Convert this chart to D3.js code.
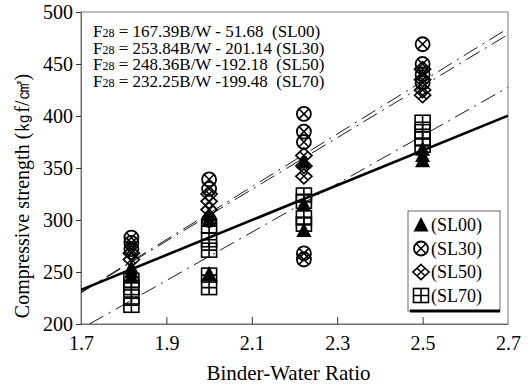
<!DOCTYPE html>
<html>
<head>
<meta charset="utf-8">
<script src="https://cdn.jsdelivr.net/npm/d3@7"></script>
<style>
  body { margin: 0; background: #fff; }
</style>
</head>
<body>
<script>
// binder-water ratio groups
var bwRatio = [1.818, 2.0, 2.222, 2.5];

var seriesNames = ['SL00', 'SL30', 'SL50', 'SL70'];

// strengths, one list per B/W group
var sl00 = [[245, 250, 254], [248, 300, 305], [356, 315, 290], [368, 362, 357]];
var sl30 = [[272, 278, 283], [339, 330, 300], [402, 385, 375, 268, 262], [469, 450, 440, 432]];
var sl50 = [[262, 268], [325, 318, 310], [362, 352, 342], [445, 435, 425, 420]];
var sl70 = [[218, 226, 235, 242], [294, 281, 271, 247, 235], [324, 318, 302, 296], [394, 385, 378, 372]];

// regression F28 = a * B/W + b
var slopes = [167.39, 253.84, 248.36, 232.25];
var intercepts = [-51.68, -201.14, -192.18, -199.48];
var eqnTexts = [' = 167.39B/W - 51.68  (SL00)', ' = 253.84B/W - 201.14 (SL30)', ' = 248.36B/W -192.18  (SL50)', ' = 232.25B/W -199.48  (SL70)'];

var xTicks = [1.7, 1.9, 2.1, 2.3, 2.5, 2.7];
var yTicks = [200, 250, 300, 350, 400, 450, 500];

var SERIF = '"Liberation Serif", "DejaVu Serif", serif';

var W = 528, H = 387;
var plotL = 81, plotR = 508, plotT = 12, plotB = 324;

var svg = d3.select('body').append('svg')
  .attr('width', W)
  .attr('height', H)
  .style('font-family', SERIF);

var x = d3.scaleLinear().domain([1.7, 2.7]).range([plotL, plotR]);
var y = d3.scaleLinear().domain([200, 500]).range([plotB, plotT]);

svg.append('clipPath').attr('id', 'plot')
  .append('rect')
  .attr('x', plotL).attr('y', plotT)
  .attr('width', plotR - plotL).attr('height', plotB - plotT);

// frame
svg.append('rect')
  .attr('x', plotL).attr('y', plotT)
  .attr('width', plotR - plotL).attr('height', plotB - plotT)
  .attr('fill', 'none')
  .attr('stroke', '#555')
  .attr('stroke-width', 0.8);

// axes
var yAxis = svg.append('g')
  .attr('transform', 'translate(' + plotL + ',0)')
  .call(d3.axisLeft(y).tickValues(yTicks).tickSize(5).tickPadding(3).tickFormat(d3.format('d')));

var xAxis = svg.append('g')
  .attr('transform', 'translate(0,' + plotB + ')')
  .call(d3.axisBottom(x).tickValues(xTicks).tickSizeInner(-7).tickSizeOuter(0).tickPadding(12).tickFormat(d3.format('.1f')));

[yAxis, xAxis].forEach(function(g) {
  g.attr('font-family', null).attr('font-size', null);
  g.select('.domain').attr('stroke', '#555').attr('stroke-width', 0.8);
  g.selectAll('.tick line').attr('stroke', '#333');
  g.selectAll('.tick text').style('font-family', SERIF).attr('font-size', 20).attr('fill', '#000');
});
xAxis.selectAll('.tick').filter(function(d) { return d === 1.7 || d === 2.7; }).select('line').remove();

// axis titles
svg.append('text')
  .attr('x', (plotL + plotR) / 2 - 6)
  .attr('y', 380)
  .attr('text-anchor', 'middle')
  .attr('font-size', 21)
  .style('font-family', SERIF)
  .text('Binder-Water Ratio');

svg.append('text')
  .attr('transform', 'translate(29,' + 196 + ') rotate(-90)')
  .attr('text-anchor', 'middle')
  .attr('font-size', 20)
  .style('font-family', SERIF)
  .text('Compressive strength (㎏f/㎠)');

// regression lines
var lineGroup = svg.append('g').attr('clip-path', 'url(#plot)');
slopes.forEach(function(a, i) {
  var b = intercepts[i];
  var x0 = Math.max(1.7, (200 - b) / a);
  lineGroup.append('line')
    .attr('x1', x(x0)).attr('y1', y(a * x0 + b))
    .attr('x2', x(2.7)).attr('y2', y(a * 2.7 + b))
    .attr('stroke', '#000')
    .attr('stroke-width', i === 0 ? 2.6 : 0.9)
    .attr('stroke-dasharray', i === 0 ? null : '16,6,2,6');
});

// marker shapes
var markers = {
  SL00: function(g) {
    g.append('path').attr('d', 'M0,-8L7.5,6.5L-7.5,6.5Z').attr('fill', '#000');
  },
  SL30: function(g) {
    var r = 7, k = r * Math.SQRT1_2;
    g.append('circle').attr('r', r).attr('fill', 'none').attr('stroke', '#000').attr('stroke-width', 1.8);
    g.append('path').attr('d', 'M' + -k + ',' + -k + 'L' + k + ',' + k + 'M' + k + ',' + -k + 'L' + -k + ',' + k)
      .attr('stroke', '#000').attr('stroke-width', 1.6);
  },
  SL50: function(g) {
    var w = 8, h = 7.5;
    g.append('path').attr('d', 'M0,' + -h + 'L' + w + ',0L0,' + h + 'L' + -w + ',0Z')
      .attr('fill', 'none').attr('stroke', '#000').attr('stroke-width', 1.7);
    g.append('path').attr('d', 'M' + w / 2 + ',' + -h / 2 + 'L' + -w / 2 + ',' + h / 2 + 'M' + -w / 2 + ',' + -h / 2 + 'L' + w / 2 + ',' + h / 2)
      .attr('stroke', '#000').attr('stroke-width', 1.5);
  },
  SL70: function(g) {
    g.append('rect').attr('x', -7.5).attr('y', -7).attr('width', 15).attr('height', 14)
      .attr('fill', 'none').attr('stroke', '#000').attr('stroke-width', 1.6);
    g.append('path').attr('d', 'M-7.5,0L7.5,0M0,-7L0,7').attr('stroke', '#000').attr('stroke-width', 1.6);
  }
};

var allSeries = [sl00, sl30, sl50, sl70];
var points = [];
allSeries.forEach(function(groups, si) {
  groups.forEach(function(vals, gi) {
    vals.forEach(function(v) {
      points.push({ name: seriesNames[si], bw: bwRatio[gi], value: v });
    });
  });
});

svg.append('g').selectAll('g')
  .data(points)
  .enter().append('g')
  .attr('transform', function(d) { return 'translate(' + x(d.bw) + ',' + y(d.value) + ')'; })
  .each(function(d) { markers[d.name](d3.select(this)); });

// equations
var eq = svg.append('g');
eqnTexts.forEach(function(t, i) {
  var txt = eq.append('text')
    .attr('x', 93)
    .attr('y', 37 + i * 16.5)
    .attr('font-size', 17)
    .style('font-family', SERIF)
    .attr('xml:space', 'preserve');
  txt.append('tspan').text('F');
  txt.append('tspan').attr('font-size', 12).text('28');
  txt.append('tspan').text(t);
});

// legend
var legend = svg.append('g');
legend.append('rect')
  .attr('x', 408).attr('y', 211)
  .attr('width', 92).attr('height', 100)
  .attr('fill', '#fff')
  .attr('stroke', '#444')
  .attr('stroke-width', 0.8);
legend.append('line')
  .attr('x1', 410).attr('x2', 500)
  .attr('y1', 311).attr('y2', 311)
  .attr('stroke', '#000')
  .attr('stroke-width', 3);

seriesNames.forEach(function(name, i) {
  var gy = 225 + i * 23.5;
  var g = legend.append('g').attr('transform', 'translate(421,' + gy + ')');
  markers[name](g);
  legend.append('text')
    .attr('x', 431)
    .attr('y', gy + 6)
    .attr('font-size', 18)
    .style('font-family', SERIF)
    .text('(' + name + ')');
});
</script>
</body>
</html>
